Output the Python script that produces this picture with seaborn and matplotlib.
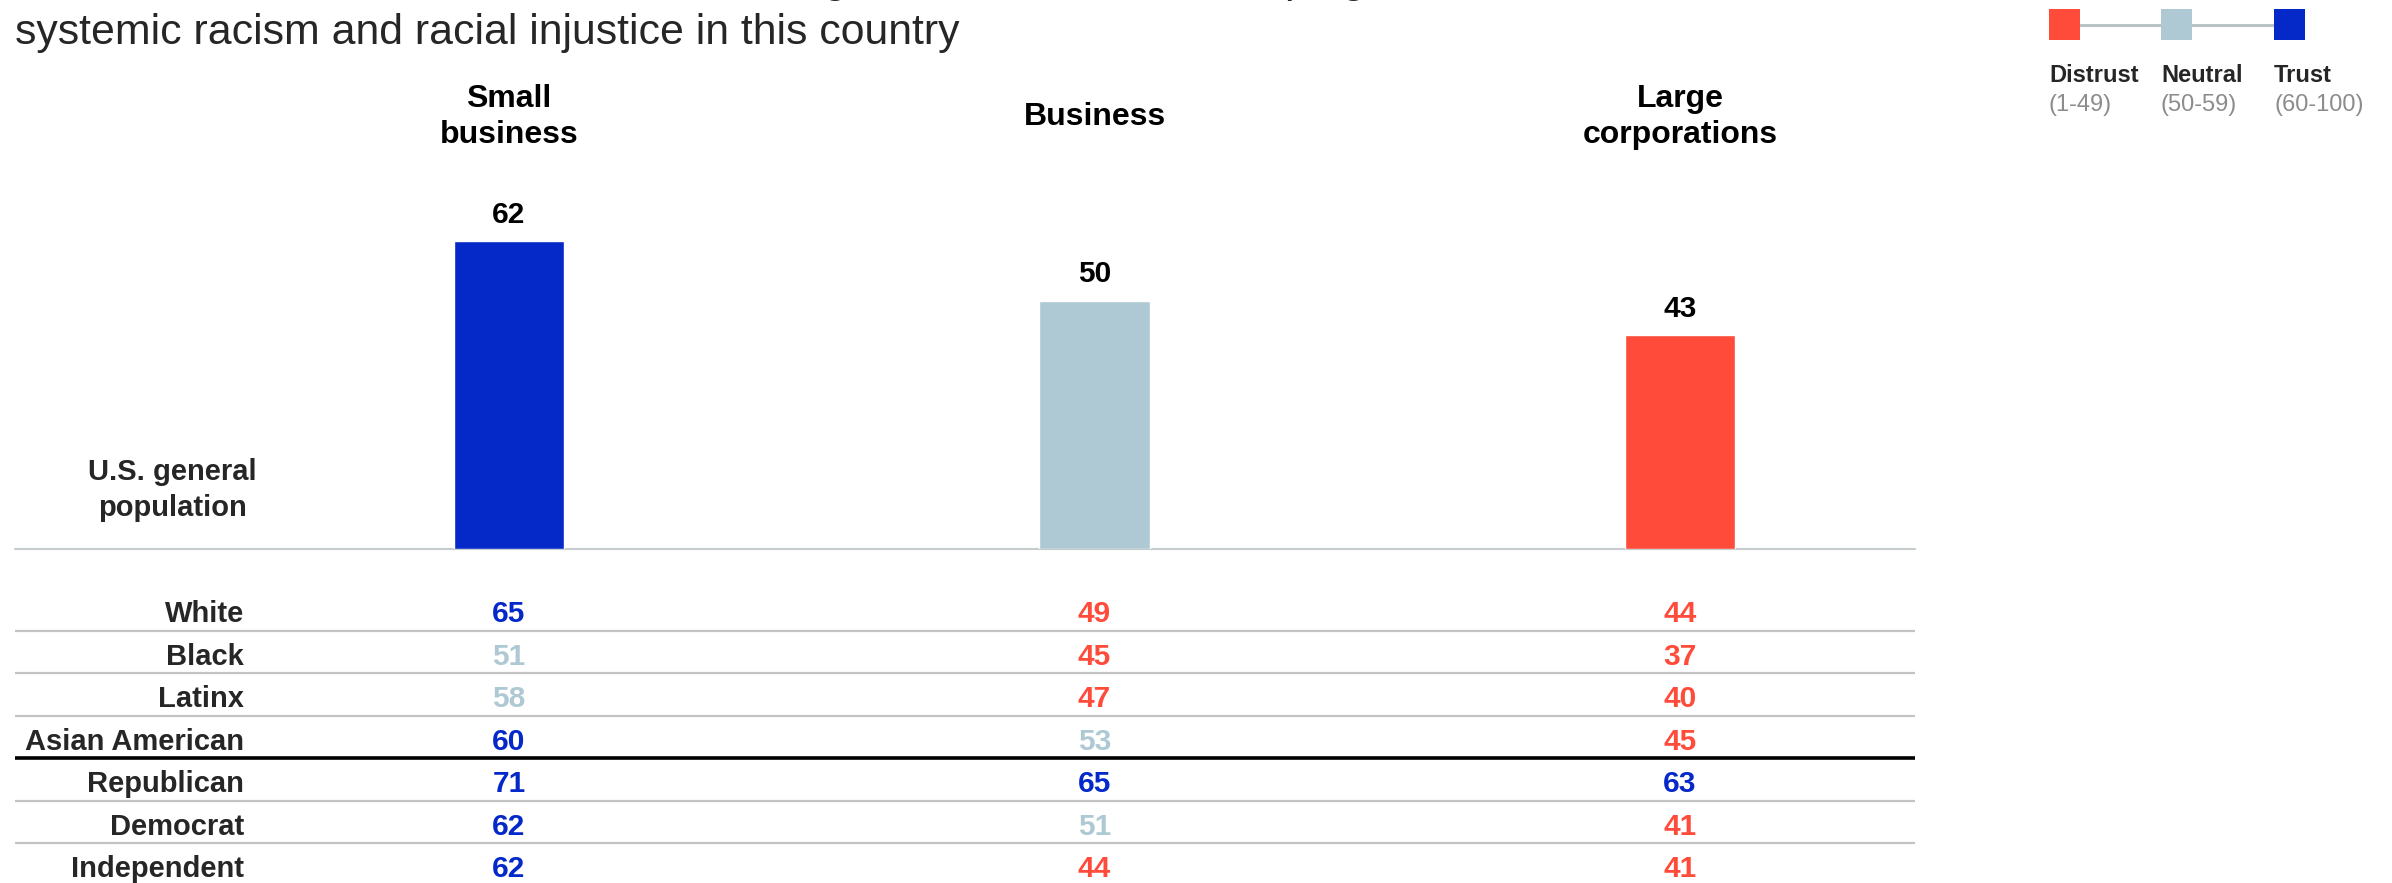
import numpy as np
import pandas as pd
import matplotlib
matplotlib.use("Agg")
import matplotlib.pyplot as plt
import seaborn as sns
from matplotlib.patches import Rectangle

# ---------------- data ----------------
institutions = ["Small\nbusiness", "Business", "Large\ncorporations"]
general_pop = [62, 50, 43]
segments = ["White", "Black", "Latinx", "Asian American", "Republican", "Democrat", "Independent"]
small_business = [65, 51, 58, 60, 71, 62, 62]
business = [49, 45, 47, 53, 65, 51, 44]
large_corporations = [44, 37, 40, 45, 63, 41, 41]
legend_labels = ["Distrust", "Neutral", "Trust"]
legend_ranges = ["(1-49)", "(50-59)", "(60-100)"]
title_line1 = "Percent trust in each sector to do what is right when it comes to helping address"
title_line2 = "systemic racism and racial injustice in this country"
pop_label = "U.S. general\npopulation"

# ---------------- style ----------------
DISTRUST = "#FF4B3A"
NEUTRAL = "#AEC9D3"
TRUST = "#0528C8"
legend_colors = [DISTRUST, NEUTRAL, TRUST]


def color_for(v):
    if v < 50:
        return DISTRUST
    if v < 60:
        return NEUTRAL
    return TRUST


sns.set_style("white")
plt.rcParams["font.family"] = ["Liberation Sans", "DejaVu Sans"]

W, H = 2392, 883
fig = plt.figure(figsize=(W / 100, H / 100), dpi=100)


def fx(px):
    return px / W


def fy(py):
    return 1 - py / H


unit_px = 585.5
left_px, right_px = 15, 1915
x0 = -(509 - left_px) / unit_px
x1 = 2 + (right_px - 1680) / unit_px
base_px, top_px = 549, 52
px_per_val = 4.97

# ---------------- bars ----------------
ax = fig.add_axes([fx(left_px), fy(base_px), (right_px - left_px) / W, (base_px - top_px) / H])
df = pd.DataFrame({"institution": institutions, "trust": general_pop})
sns.barplot(data=df, x="institution", y="trust", hue="institution",
            palette=[color_for(v) for v in general_pop], width=0.188,
            saturation=1, legend=False, ax=ax)
ax.set_xlim(x0, x1)
ax.set_ylim(0, (base_px - top_px) / px_per_val)
ax.axis("off")
ax.axhline(0, color="#C5CCCE", lw=1.5, clip_on=False, zorder=0)

for i, v in enumerate(general_pop):
    ax.text(i, v + 26 / px_per_val, str(v), ha="center", va="center",
            fontsize=21.5, fontweight="bold", color="black")
for i, name in enumerate(institutions):
    ax.text(i, (base_px - 117) / px_per_val, name, ha="center", va="center",
            fontsize=23, fontweight="bold", color="black", linespacing=1.3)
ax.text((172 - 509) / unit_px, (base_px - 490) / px_per_val, pop_label,
        ha="center", va="center", fontsize=21, fontweight="bold", linespacing=1.35)

# ---------------- table ----------------
row0_px, row_px = 611.5, 42.5
t_top = 573.7
axt = fig.add_axes([fx(left_px), 0, (right_px - left_px) / W, (H - t_top) / H])
axt.set_xlim(x0, x1)
axt.set_ylim((H - row0_px) / row_px, -(row0_px - t_top) / row_px)
axt.axis("off")

label_x = (244 - 509) / unit_px
columns = [small_business, business, large_corporations]
for r, seg in enumerate(segments):
    axt.text(label_x, r + 0.07, seg, ha="right", va="center", fontsize=21, fontweight="bold")
    for c, col in enumerate(columns):
        v = col[r]
        axt.text(c, r + 0.07, str(v), ha="center", va="center", fontsize=21.5,
                 fontweight="bold", color=color_for(v))
for r in range(len(segments) - 1):
    if segments[r] == "Asian American":
        axt.hlines(r + 0.45, x0, x1, color="black", lw=2.6)
    else:
        axt.hlines(r + 0.45, x0, x1, color="#C3C3C3", lw=1.6)

# ---------------- overlay: title + legend ----------------
axo = fig.add_axes([0, 0, 1, 1])
axo.set_xlim(0, W)
axo.set_ylim(H, 0)
axo.axis("off")
axo.text(15, 44, title_line2, fontsize=30.8, va="baseline", ha="left")
axo.text(15, -8, title_line1, fontsize=30.8, va="baseline", ha="left")

leg_x = [2049, 2161, 2274]
axo.plot([leg_x[0] + 15, leg_x[-1] + 15], [24.5, 24.5], color="#B9C3C3", lw=2.2, zorder=1)
for x, col, lab, rng in zip(leg_x, legend_colors, legend_labels, legend_ranges):
    axo.add_patch(Rectangle((x, 9), 31, 31, facecolor=col, edgecolor="none", zorder=2))
    axo.text(x, 75, lab, fontsize=17, fontweight="bold", ha="left", va="center")
    axo.text(x, 105, rng, fontsize=17, color="#8C8C8C", ha="left", va="center")

fig.savefig("out.png", dpi=100, facecolor="white")
